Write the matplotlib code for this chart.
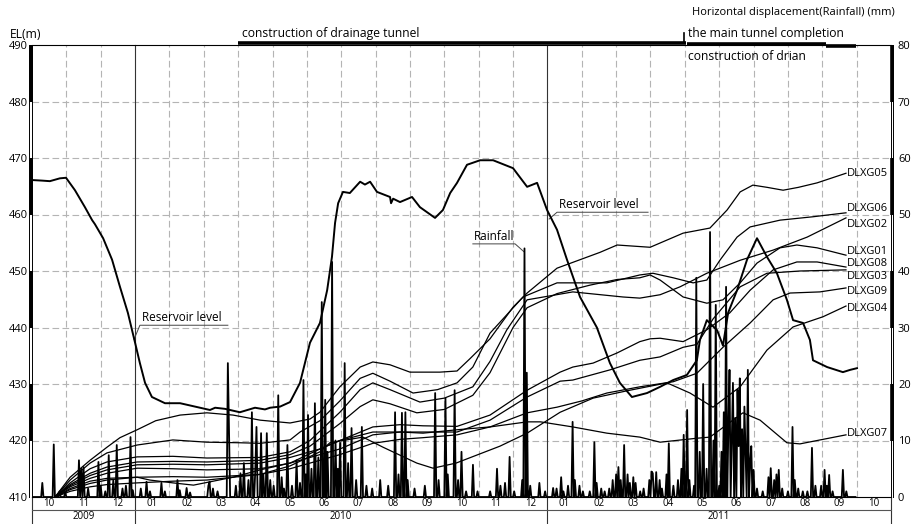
import numpy as np
import matplotlib
matplotlib.use('Agg')
import matplotlib.pyplot as plt

plt.rcParams['font.family'] = ['Open Sans', 'DejaVu Sans']

# time is in months counted from 1 Oct 2009
month_labels = ['10', '11', '12', '01', '02', '03', '04', '05', '06', '07', '08', '09',
                '10', '11', '12', '01', '02', '03', '04', '05', '06', '07', '08', '09', '10']
year_labels = ['2009', '2010', '2011']
year_start = [0, 3, 15]
year_end = [3, 15, 25]

# reservoir level (m)
res_t = [0, 0.29, 0.52, 0.81, 0.99, 1.25, 1.54, 1.75, 1.83, 2.07, 2.33, 2.56, 2.79, 3.0, 3.14,
         3.29, 3.49, 3.87, 4.31, 4.89, 5.18, 5.33, 5.62, 6.05, 6.49, 6.78, 6.93, 7.22, 7.51,
         7.8, 8.09, 8.38, 8.59, 8.73, 8.82, 8.91, 9.05, 9.25, 9.43, 9.55, 9.69, 9.84, 10.04,
         10.42, 10.45, 10.51, 10.71, 11.06, 11.29, 11.73, 11.96, 12.17, 12.37, 12.66, 13.04,
         13.42, 14.0, 14.41, 14.7, 14.99, 15.28, 15.57, 15.95, 16.24, 16.44, 16.82, 17.11,
         17.46, 17.9, 18.28, 18.66, 19.06, 19.35, 19.44, 19.64, 19.94, 20.11, 20.26, 20.52,
         20.81, 21.1, 21.39, 21.68, 21.97, 22.15, 22.44, 22.64, 22.73, 23.14, 23.6, 23.81, 24.01]
res_el = [466.1, 466.0, 465.9, 466.4, 466.5, 464.3, 461.3, 459.0, 458.3, 455.8, 452.0, 447.2,
          442.6, 437.3, 433.7, 430.2, 427.7, 426.6, 426.6, 425.8, 425.4, 425.8, 425.6, 425.0,
          425.8, 425.5, 425.8, 426.0, 426.8, 430.2, 437.3, 440.8, 446.6, 452.5, 458.5, 462.0,
          464.0, 463.8, 465.0, 465.8, 465.3, 465.8, 464.0, 463.1, 462.0, 462.8, 462.2, 463.1,
          461.3, 459.4, 460.8, 463.8, 465.6, 468.8, 469.6, 469.6, 468.2, 464.9, 465.6, 460.8,
          457.3, 452.0, 445.4, 442.2, 440.0, 433.7, 430.2, 427.7, 428.4, 429.5, 430.7, 431.6,
          434.2, 437.8, 441.3, 439.5, 436.8, 442.6, 446.6, 452.0, 455.8, 452.5, 449.6, 444.9,
          441.3, 440.8, 437.8, 434.2, 433.0, 432.1, 432.5, 432.8]

# horizontal displacement (mm)
g05_t = [0.67, 1.11, 1.69, 2.18, 2.56, 3.06, 3.6, 4.31, 5.09, 5.85, 6.64, 7.51, 8.09, 8.38, 8.96,
         9.55, 9.92, 10.42, 11.0, 11.87, 12.37, 12.75, 13.33, 14.0, 14.41, 15.28, 15.95, 16.53,
         17.03, 17.99, 18.95, 19.73, 20.23, 20.61, 20.98, 21.4, 21.86, 22.3, 22.85, 23.69]
g05_v = [0, 3.5, 6.5, 8.8, 10.5, 11.9, 13.5, 14.5, 14.9, 14.5, 13.6, 13.1, 13.8, 15.0, 19.5,
         23.0, 23.9, 23.4, 22.1, 22.1, 22.3, 24.5, 28.0, 33.6, 36.1, 40.5, 42.0, 43.3,
         44.6, 44.2, 46.7, 47.6, 50.8, 54.0, 55.2, 54.8, 54.3, 54.8, 55.6, 57.3]
g06_t = [0.67, 1.11, 1.69, 2.18, 3.06, 4.1, 5.09, 6.05, 6.64, 7.51, 7.8, 8.38, 8.96, 9.55, 9.92,
         10.42, 11.09, 11.8, 12.37, 12.83, 13.33, 14.29, 15.28, 16.73, 17.69, 18.07, 18.66,
         19.24, 19.64, 20.02, 20.52, 20.9, 21.77, 22.73, 23.69]
g06_v = [0, 3.0, 6.0, 7.8, 9.2, 10.1, 9.7, 9.6, 9.5, 10.1, 11.5, 13.5, 17.0, 21.0, 21.9,
         20.5, 18.4, 19.0, 20.2, 23.0, 29.0, 35.4, 37.9, 37.9, 39.3, 39.6, 38.8,
         37.9, 38.4, 41.9, 46.0, 47.8, 49.0, 49.6, 50.3]
g02_t = [0.67, 1.11, 1.69, 2.18, 3.06, 4.1, 5.09, 6.64, 7.51, 8.09, 8.96, 9.55, 9.92, 10.42,
         11.29, 12.0, 12.83, 13.33, 13.82, 14.41, 15.74, 17.2, 17.69, 18.28, 18.86, 19.64,
         20.61, 21.57, 22.56, 23.69]
g02_v = [0, 2.5, 5.0, 6.2, 7.1, 7.2, 6.9, 7.0, 8.0, 10.0, 15.0, 19.0, 20.2, 19.0,
         16.8, 17.5, 19.5, 24.0, 29.6, 34.9, 36.3, 35.4, 35.2, 35.8, 37.2, 39.6,
         41.9, 43.7, 46.0, 49.4]
g01_t = [0.67, 1.11, 1.69, 2.18, 3.06, 4.1, 5.09, 6.64, 7.51, 8.09, 8.96, 9.55, 9.92, 10.42,
         11.2, 12.0, 12.83, 13.33, 14.0, 14.41, 15.28, 16.24, 17.03, 17.69, 17.99, 18.28,
         18.95, 19.64, 20.11, 20.61, 21.1, 21.77, 22.26, 22.85, 23.69]
g01_v = [0, 2.2, 4.2, 5.3, 6.2, 6.3, 6.2, 6.5, 7.5, 9.0, 13.0, 16.0, 17.2, 16.5,
         14.9, 15.5, 18.0, 22.0, 30.0, 33.5, 36.0, 37.5, 38.5, 38.8, 39.3, 38.4,
         35.4, 34.3, 34.9, 37.9, 41.4, 44.1, 44.6, 44.1, 42.8]
g08_t = [0.67, 1.11, 1.69, 2.18, 3.06, 4.1, 5.09, 6.64, 7.51, 8.38, 8.96, 9.92, 10.71, 11.38,
         12.37, 13.33, 14.41, 15.37, 15.74, 16.33, 17.03, 17.69, 17.99, 18.28, 18.95, 19.64,
         20.31, 20.9, 21.57, 22.26, 22.85, 23.69]
g08_v = [0, 2.0, 3.8, 4.8, 5.7, 5.8, 5.7, 6.0, 7.0, 8.5, 10.0, 12.4, 12.8, 12.6,
         12.5, 14.5, 18.9, 22.1, 23.0, 23.7, 25.5, 27.5, 28.0, 28.1, 27.5, 29.6,
         32.6, 36.6, 40.2, 41.6, 41.6, 40.7]
g03_t = [0.67, 1.11, 1.69, 2.18, 3.06, 4.1, 5.09, 6.64, 7.51, 8.38, 8.96, 9.92, 10.71, 11.38,
         12.37, 13.33, 14.41, 15.37, 15.74, 16.82, 17.69, 18.28, 18.95, 19.35, 19.82, 20.61,
         21.39, 22.35, 23.69]
g03_v = [0, 1.8, 3.3, 4.2, 5.1, 5.0, 4.8, 5.0, 6.0, 7.5, 8.5, 11.0, 11.5, 11.5,
         11.5, 13.6, 17.7, 20.5, 20.7, 22.5, 24.2, 24.8, 26.5, 27.0, 31.5, 37.2,
         39.6, 40.0, 40.2]
g09_t = [0.67, 1.11, 1.69, 2.18, 3.06, 4.1, 5.09, 6.64, 7.51, 8.38, 8.96, 9.92, 10.71, 11.38,
         12.37, 13.33, 14.41, 15.28, 16.0, 16.73, 17.69, 18.66, 19.35, 20.11, 20.9, 21.57,
         22.06, 22.93, 23.69]
g09_v = [0, 1.3, 2.4, 3.0, 3.5, 3.6, 3.5, 4.0, 5.0, 6.5, 7.5, 9.5, 10.2, 10.5,
         11.0, 12.4, 14.9, 15.9, 17.0, 18.4, 19.5, 20.4, 21.9, 26.5, 30.8, 34.9,
         36.1, 36.3, 37.0]
g04_t = [0.67, 1.11, 1.69, 2.18, 3.06, 4.1, 5.09, 6.64, 7.51, 8.38, 8.67, 9.63, 10.22, 11.2,
         11.67, 12.34, 13.62, 14.41, 15.37, 16.33, 17.32, 18.48, 19.15, 19.82, 20.61, 21.39,
         22.15, 23.02, 23.69]
g04_v = [0, 1.0, 1.8, 2.2, 2.5, 2.8, 3.0, 4.0, 5.5, 8.0, 9.6, 10.6, 8.8, 6.0,
         5.1, 6.0, 9.0, 11.3, 15.0, 17.5, 18.8, 20.2, 18.4, 15.9, 19.5, 26.0,
         30.1, 31.9, 33.8]
g07_t = [0.67, 1.11, 1.69, 2.18, 3.06, 3.43, 4.1, 4.7, 5.85, 6.64, 7.51, 8.38, 8.96, 9.92,
         10.71, 11.38, 12.37, 13.33, 14.41, 14.8, 15.74, 16.73, 17.69, 18.28, 19.35, 19.73,
         20.69, 21.19, 21.97, 22.35, 23.69]
g07_v = [0, 1.5, 2.8, 3.3, 3.5, 3.0, 2.5, 2.1, 3.5, 4.8, 6.0, 8.5, 10.0, 11.5,
         11.5, 11.3, 11.9, 12.4, 13.3, 13.3, 12.4, 11.3, 10.6, 9.7, 10.4, 10.6,
         14.9, 13.6, 9.6, 9.4, 11.0]

# daily rainfall events (month, mm); all other days are dry
rain_t = [0.29, 0.64, 0.81, 0.96, 1.37, 1.43, 1.51, 1.63, 1.92, 2.01, 2.15, 2.24, 2.36, 2.47,
          2.62, 2.74, 2.85, 2.94, 3.17, 3.35, 3.43, 3.78, 3.87, 4.22, 4.31, 4.51, 4.6, 5.12,
          5.18, 5.27, 5.41, 5.7, 5.73, 5.94, 6.05, 6.17, 6.29, 6.4, 6.49, 6.55, 6.66, 6.75,
          6.84, 6.93, 7.04, 7.16, 7.25, 7.33, 7.42, 7.57, 7.71, 7.8, 7.89, 7.97, 8.03, 8.12,
          8.24, 8.32, 8.44, 8.53, 8.61, 8.73, 8.82, 8.91, 8.96, 9.11, 9.2, 9.31, 9.43, 9.6,
          9.72, 9.9, 10.13, 10.36, 10.56, 10.65, 10.77, 10.86, 10.94, 11.15, 11.44, 11.73,
          11.82, 12.02, 12.11, 12.31, 12.4, 12.49, 12.63, 12.83, 12.98, 13.33, 13.53, 13.62,
          13.77, 13.91, 14.03, 14.26, 14.35, 14.4, 14.49, 14.76, 14.93, 15.16, 15.28, 15.4,
          15.48, 15.6, 15.72, 15.8, 15.92, 16.04, 16.24, 16.36, 16.44, 16.56, 16.68, 16.79,
          16.91, 17.0, 17.08, 17.14, 17.23, 17.32, 17.4, 17.49, 17.58, 17.69, 17.81, 17.96,
          18.02, 18.07, 18.16, 18.25, 18.33, 18.45, 18.54, 18.66, 18.8, 18.89, 18.98, 19.06,
          19.15, 19.27, 19.35, 19.44, 19.53, 19.62, 19.73, 19.82, 19.9, 19.99, 20.08, 20.14,
          20.2, 20.26, 20.31, 20.37, 20.4, 20.46, 20.52, 20.58, 20.61, 20.66, 20.72, 20.78,
          20.84, 20.9, 20.95, 21.01, 21.1, 21.25, 21.42, 21.51, 21.59, 21.65, 21.74, 21.83,
          22.0, 22.12, 22.2, 22.29, 22.44, 22.58, 22.7, 22.79, 22.96, 23.05, 23.14, 23.2,
          23.31, 23.6, 23.69]
rain_mm = [2.5, 9.3, 1.0, 0.8, 6.5, 5.0, 5.3, 1.5, 6.2, 2.0, 1.0, 7.4, 3.0, 9.2,
           1.5, 2.0, 10.6, 1.2, 1.5, 2.7, 1.0, 2.5, 1.0, 3.0, 1.2, 1.6, 0.8, 2.0,
           2.7, 1.5, 1.0, 23.7, 12.0, 2.0, 4.2, 6.0, 3.0, 15.0, 5.0, 12.4, 11.3, 4.0,
           11.3, 3.0, 2.0, 18.0, 3.5, 1.5, 9.2, 2.0, 6.5, 2.5, 20.7, 4.0, 14.5, 5.0,
           16.6, 7.0, 34.5, 17.2, 8.0, 41.6, 10.0, 5.0, 9.6, 23.7, 6.0, 12.2, 3.0, 12.4,
           2.0, 1.5, 3.0, 2.0, 15.0, 4.0, 14.9, 15.0, 3.0, 1.5, 2.0, 18.4,
           3.0, 17.5, 4.0, 18.9, 3.0, 8.0, 1.0, 5.7, 1.0, 1.0, 5.0, 2.0,
           2.5, 7.1, 1.0, 3.0, 44.0, 22.0, 2.0, 2.5, 1.0, 1.6, 1.5, 3.5,
           1.0, 2.0, 13.3, 3.0, 2.0, 1.0, 1.0, 9.7, 2.5, 1.5, 1.0, 1.5,
           3.0, 4.0, 5.3, 3.0, 9.2, 4.0, 2.5, 3.5, 2.5, 1.0, 1.5, 3.0,
           4.5, 4.2, 4.4, 3.0, 1.5, 4.0, 9.5, 2.0, 3.0, 5.0, 11.0, 15.4,
           3.0, 2.0, 38.8, 8.0, 20.0, 5.0, 46.9, 10.0, 34.0, 2.0, 8.0, 15.0,
           37.2, 12.0, 22.5, 10.0, 20.2, 14.0, 19.0, 9.0, 21.0, 12.0, 16.0, 8.0,
           22.5, 6.0, 9.0, 4.8, 1.5, 1.0, 3.5, 5.1, 3.0, 4.0, 4.8, 1.5,
           1.0, 12.4, 3.0, 1.5, 1.0, 1.0, 8.7, 2.0, 2.0, 4.8, 2.0, 3.9,
           1.0, 4.8, 1.0]

# construction periods (months)
tunnel_period = [6.0, 19.03]
drain_period = [19.07, 23.1]
drain_period2 = [23.1, 23.98]
completion_t = 18.97

W, H = 912, 524
fig = plt.figure(figsize=(W / 100, H / 100), dpi=100)
ax = fig.add_axes([32 / W, 27 / H, 859 / W, 452 / H])
ax.set_xlim(0, 25)
ax.set_ylim(410, 490)
ax2 = ax.twinx()
ax2.set_ylim(0, 80)

# grid
dash = (0, (6, 3))
for m in range(1, 25):
    if m in year_start:
        continue
    ax.axvline(m, color='#b4b4b4', lw=0.8, ls=dash, zorder=0)
for e in range(420, 490, 10):
    ax.axhline(e, color='#b4b4b4', lw=0.8, ls=dash, zorder=0)

# year separators run down through the label rows
xtr = ax.get_xaxis_transform()
for s in year_start[1:]:
    ax.plot([s, s], [1, -0.06], transform=xtr, color='#333333', lw=0.8, clip_on=False)
for s in (0, 25):
    ax.plot([s, s], [0, -0.06], transform=xtr, color='#333333', lw=0.8, clip_on=False)
ax.plot([0, 25], [-0.0288, -0.0288], transform=xtr, color='#555555', lw=0.8, clip_on=False)

for i, lab in enumerate(month_labels):
    ax.text(i + 0.5, -0.015, lab, transform=xtr, ha='center', va='center', fontsize=7)
for lab, a, b in zip(year_labels, year_start, year_end):
    ax.text((a + b) / 2, -0.044, lab, transform=xtr, ha='center', va='center', fontsize=7)

# reservoir level
ax.plot(res_t, res_el, color='k', lw=1.4, zorder=3)

# rainfall
days = np.arange(0, 24.0, 1 / 30)
rain = np.zeros(len(days))
for t, v in zip(rain_t, rain_mm):
    i = int(round(t * 30))
    rain[i] = max(rain[i], v)
ax2.plot(days, rain, color='k', lw=1.3, zorder=2)

# displacement curves
series = [('DLXG05', g05_t, g05_v), ('DLXG06', g06_t, g06_v), ('DLXG02', g02_t, g02_v),
          ('DLXG01', g01_t, g01_v), ('DLXG08', g08_t, g08_v), ('DLXG03', g03_t, g03_v),
          ('DLXG09', g09_t, g09_v), ('DLXG04', g04_t, g04_v), ('DLXG07', g07_t, g07_v)]
label_y = {'DLXG05': 57.3, 'DLXG06': 51.0, 'DLXG02': 48.3, 'DLXG01': 43.5, 'DLXG08': 41.3,
           'DLXG03': 39.1, 'DLXG09': 36.3, 'DLXG04': 33.3, 'DLXG07': 11.2}
for name, t, v in series:
    ax2.plot(t, v, color='k', lw=0.9, zorder=3)
    ax2.text(t[-1] + 0.03, label_y[name], name, ha='left', va='center', fontsize=8)

# annotations
ax.text(3.2, 440.7, 'Reservoir level', ha='left', va='bottom', fontsize=8.5)
ax.plot([2.97, 3.14, 5.7], [437.9, 440.4, 440.4], color='#444444', lw=0.7)
ax.text(15.35, 460.6, 'Reservoir level', ha='left', va='bottom', fontsize=8.5)
ax.plot([15.05, 15.28, 17.93], [459.2, 460.4, 460.4], color='#444444', lw=0.7)
ax.text(12.85, 455.0, 'Rainfall', ha='left', va='bottom', fontsize=8.5)
ax.plot([12.83, 14.06, 14.32], [454.8, 454.8, 453.4], color='#444444', lw=0.7)

# construction bars above the plot
ax.plot(tunnel_period, [490.35, 490.35], color='k', lw=2.6, solid_capstyle='butt', clip_on=False)
ax.plot(drain_period, [490.25, 490.25], color='k', lw=2.6, solid_capstyle='butt', clip_on=False)
ax.plot(drain_period2, [489.85, 489.85], color='k', lw=2.6, solid_capstyle='butt', clip_on=False)
ax.plot([completion_t, completion_t], [490.3, 492.1], color='k', lw=1.2, clip_on=False)

# spines: alternating solid / hollow scale bars on both sides
for sp in ('left', 'right'):
    ax.spines[sp].set_visible(False)
for sp in ax2.spines.values():
    sp.set_visible(False)
ax.spines['top'].set_linewidth(0.8)
ax.spines['bottom'].set_linewidth(0.8)
ytr = ax.get_yaxis_transform()
off = 2.5 / 859
for xf, d in ((0, -1), (1, 1)):
    ax.plot([xf, xf], [410, 490], transform=ytr, color='k', lw=0.7, clip_on=False)
    ax.plot([xf + d * off] * 2, [410, 490], transform=ytr, color='k', lw=0.7, clip_on=False)
    for lo in (480, 460, 440, 420):
        ax.plot([xf + d * off / 2] * 2, [lo, lo + 10], transform=ytr, color='k', lw=2.6,
                solid_capstyle='butt', clip_on=False)

ax.set_xticks([])
ax.set_yticks(range(410, 491, 10))
ax.tick_params(axis='y', length=0, pad=3, labelsize=8)
ax2.set_yticks(range(0, 81, 10))
ax2.tick_params(axis='y', length=0, pad=5, labelsize=8)

# header texts
fig.text(10 / W, 1 - 34 / H, 'EL(m)', ha='left', va='center', fontsize=8.7)
fig.text(242 / W, 1 - 33 / H, 'construction of drainage tunnel', ha='left', va='center', fontsize=8.7)
fig.text(692 / W, 1 - 12 / H, 'Horizontal displacement(Rainfall) (mm)', ha='left', va='center', fontsize=8.0)
fig.text(688 / W, 1 - 33 / H, 'the main tunnel completion', ha='left', va='center', fontsize=8.7)
fig.text(688 / W, 1 - 56 / H, 'construction of drian', ha='left', va='center', fontsize=8.7)

fig.savefig('out.png', dpi=100)
